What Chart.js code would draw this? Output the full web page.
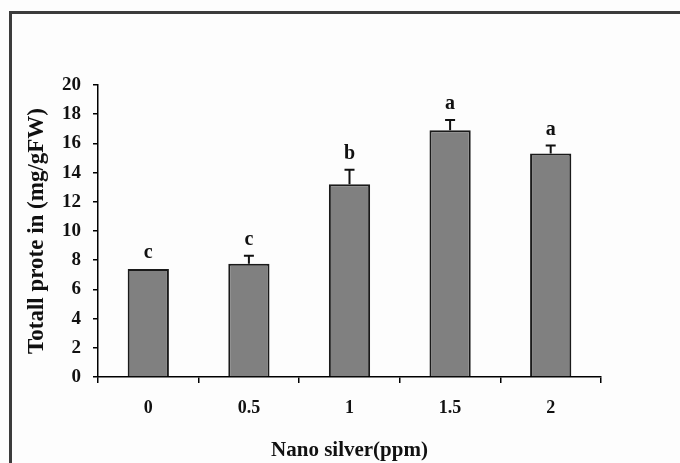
<!DOCTYPE html>
<html>
<head>
<meta charset="utf-8">
<script src="https://cdn.jsdelivr.net/npm/chart.js@4.4.0/dist/chart.umd.min.js"></script>
<style>
  html, body { margin: 0; padding: 0; background: #fdfdfd; }
  #wrap { position: relative; width: 680px; height: 463px; overflow: hidden; }
  #frame { position: absolute; left: 9px; top: 11px; width: 700px; height: 500px;
           border-left: 3px solid #3c3c3c; border-top: 3px solid #3c3c3c; }
  canvas { position: absolute; left: 0; top: 0; }
</style>
</head>
<body>
<div id="wrap">
  <div id="frame"></div>
  <canvas id="chart" width="680" height="463"></canvas>
</div>
<script>
// Totall protein vs nano silver
var doses = ["0", "0.5", "1", "1.5", "2"];
var protein = [7.4, 7.75, 13.2, 16.9, 15.3];
var errors = [0, 0.55, 1.0, 0.7, 0.55];
var letters = ["c", "c", "b", "a", "a"];
var yTicks = [0, 2, 4, 6, 8, 10, 12, 14, 16, 18, 20];

var serif = "'Liberation Serif', 'Times New Roman', serif";

// error bars (upper half only) + significance letters
var extras = {
  id: 'extras',
  afterDatasetsDraw: function (chart) {
    var ctx = chart.ctx;
    var meta = chart.getDatasetMeta(0);
    var y = chart.scales.y;
    ctx.save();
    ctx.strokeStyle = '#111';
    ctx.lineWidth = 2;
    meta.data.forEach(function (bar, i) {
      var x = bar.x;
      var top = y.getPixelForValue(protein[i] + errors[i]);
      if (errors[i] > 0) {
        ctx.beginPath();
        ctx.moveTo(x, bar.y);
        ctx.lineTo(x, top);
        ctx.moveTo(x - 5, top);
        ctx.lineTo(x + 5, top);
        ctx.stroke();
      }
      ctx.fillStyle = '#111';
      ctx.font = 'bold 20px ' + serif;
      ctx.textAlign = 'center';
      ctx.textBaseline = 'alphabetic';
      ctx.fillText(letters[i], x, top - 11);
    });
    ctx.restore();
  }
};

var ctx = document.getElementById("chart");
var chart = new Chart(ctx, {
  type: 'bar',
  data: {
    labels: doses,
    datasets: [{
      label: 'Totall protein',
      data: protein,
      backgroundColor: '#808080',
      borderColor: '#1a1a1a',
      borderWidth: 2,
      borderSkipped: 'bottom',
      categoryPercentage: 1.0,
      barPercentage: 0.41
    }]
  },
  options: {
    responsive: false,
    animation: false,
    layout: { padding: { left: 12, top: 85, right: 79, bottom: 0 } },
    plugins: {
      legend: { display: false },
      tooltip: { enabled: false }
    },
    scales: {
      x: {
        offset: true,
        grid: { display: true, drawOnChartArea: false, offset: true, tickLength: 6, color: '#000', lineWidth: 1.5 },
        border: { display: true, color: '#000', width: 1.5 },
        ticks: { color: '#111', padding: 15, font: { family: serif, size: 18, weight: 'bold' } },
        title: {
          display: true,
          text: 'Nano silver(ppm)',
          color: '#111',
          padding: { top: 0, bottom: 0 },
          font: { family: serif, size: 21, weight: 'bold' }
        },
        afterFit: function (scale) { scale.height = 86; }
      },
      y: {
        min: 0,
        max: 20,
        afterBuildTicks: function (scale) {
          scale.ticks = yTicks.map(function (v) { return { value: v }; });
        },
        grid: { display: true, drawOnChartArea: false, tickLength: 5, color: '#000', lineWidth: 1.5 },
        border: { display: true, color: '#000', width: 1.5 },
        ticks: { color: '#111', padding: 12, font: { family: serif, size: 19, weight: 'bold' } },
        title: {
          display: true,
          text: 'Totall prote in (mg/gFW)',
          color: '#111',
          padding: { top: 11, bottom: 0 },
          font: { family: serif, size: 23, weight: 'bold' }
        },
        afterFit: function (scale) { scale.width = 86; }
      }
    }
  },
  plugins: [extras]
});
</script>
</body>
</html>
